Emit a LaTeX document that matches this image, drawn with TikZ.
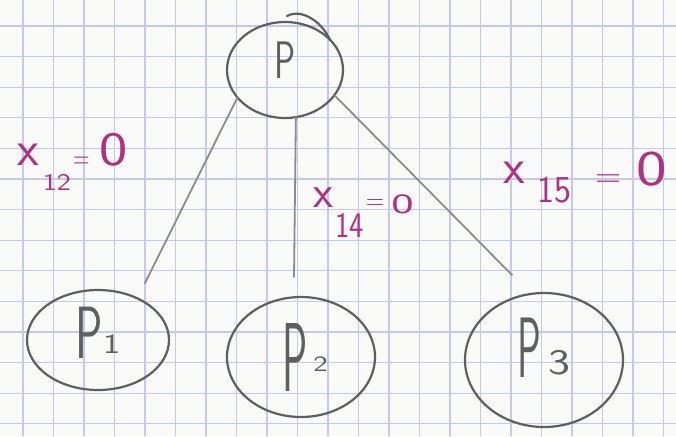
\documentclass[tikz,border=0pt]{standalone}
\usetikzlibrary{shapes.geometric}
\definecolor{paper}{RGB}{250,250,248}
\definecolor{gridc}{RGB}{198,201,238}
\definecolor{pencil}{RGB}{95,95,95}
\definecolor{pencilL}{RGB}{140,140,140}
\definecolor{ink}{RGB}{178,48,128}
\newcommand{\fsz}[1]{\fontsize{#1}{#1}\selectfont}
\newcommand{\sq}[3]{\scalebox{#1}[1]{\fsz{#2}#3}}
\tikzset{
 blob/.style={draw=pencil, line width=2.2pt, ellipse, inner sep=0pt, outer sep=0pt, text=pencil, font=\sffamily},
 conn/.style={draw=pencilL, line width=1.8pt, line cap=round},
 lab/.style={text=ink, font=\sffamily, anchor=base west, inner sep=0pt},
 gridline/.style={draw=gridc, line width=1.1pt},
}
\begin{document}
\begin{tikzpicture}[x=1pt,y=-1pt]
\useasboundingbox (0,0) rectangle (676,436);
\fill[paper] (0,0) rectangle (676,436);
\foreach \k in {0,...,21} \draw[gridline] ({23+30.5*\k},0) -- ({23+30.5*\k},436);
\foreach \k in {0,...,13} \draw[gridline] (0,{26+30.6*\k}) -- (676,{26+30.6*\k});

% nodes
\node[blob, minimum width=116pt, minimum height=96pt, text depth=20pt] (p) at (285,70) {\scalebox{0.8}[1.2]{\fsz{44}P}};
\draw[pencil, line width=2.2pt, line cap=round] (287,16) .. controls (302,8) and (322,22) .. (330,40);
\node[blob, minimum width=142pt, minimum height=100pt, text depth=14pt] (p1) at (98,340) {\scalebox{0.8}[1.3]{\fsz{57}P}\raisebox{5pt}{\sq{1.3}{28}{1}}\hspace{10pt}};
\node[blob, minimum width=148pt, minimum height=120pt] (p2) at (301,357) {\hspace{8pt}\scalebox{0.6}[1.4]{\fsz{70}P}\hspace{6pt}\raisebox{20pt}{\sq{1.4}{22}{2}}};
\node[blob, minimum width=158pt, minimum height=134pt, text depth=24pt] (p3) at (544,360) {\scalebox{0.6}[1.3]{\fsz{66}P}\hspace{8pt}\raisebox{3pt}{\sq{1.3}{36}{3}}};

% connectors
\coordinate (e1) at (145,283);
\coordinate (e2) at (294,277);
\coordinate (e3) at (512,275);
\draw[conn] (p.210) -- (e1);
\draw[conn] (p.283) -- (e2);
\draw[conn] (p.333) -- (e3);

% labels
\node[lab] (l1) at (17,165) {\fsz{50}x\hspace{4pt}\raisebox{-25pt}{\sq{1.25}{24}{12}}\hspace{2pt}\raisebox{-3pt}{\sq{0.7}{32}{=}}\hspace{10pt}\sq{1.25}{48}{0}};
\node[lab] (l2) at (313,207) {\fsz{46}x\hspace{2pt}\raisebox{-30pt}{\sq{0.85}{36}{14}}\hspace{2pt}\raisebox{-2pt}{\sq{0.9}{28}{=}}\hspace{7pt}\raisebox{-6pt}{\sq{1.7}{28}{0}}};
\node[lab] (l3) at (503,183) {\fsz{50}x\hspace{13pt}\raisebox{-19pt}{\sq{0.95}{38}{15}}\hspace{24pt}\raisebox{-4pt}{\sq{1}{36}{=}}\hspace{14pt}\raisebox{-2pt}{\sq{1.3}{50}{0}}};
\end{tikzpicture}
\end{document}
